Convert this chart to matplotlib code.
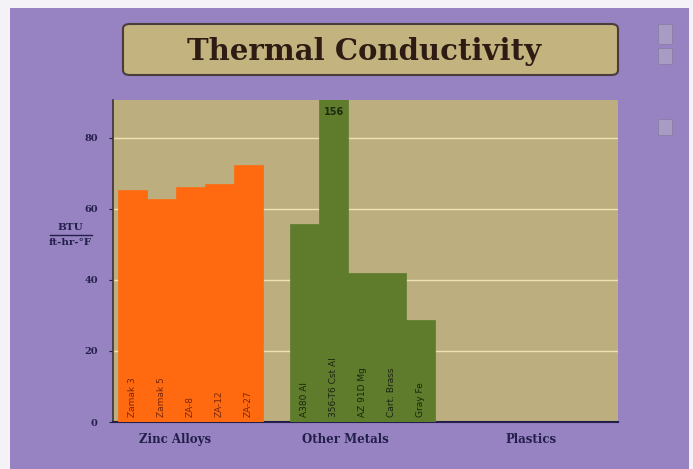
import matplotlib.pyplot as plt
from matplotlib.patches import FancyBboxPatch, Rectangle

# data
group_names = ['Zinc Alloys', 'Other Metals', 'Plastics']
zinc_labels = ['Zamak 3', 'Zamak 5', 'ZA-8', 'ZA-12', 'ZA-27']
zinc_values = [65.3, 62.9, 66.3, 67.1, 72.5]
metal_labels = ['A380 Al', '356-T6 Cst Al', 'AZ 91D Mg', 'Cart. Brass', 'Gray Fe']
metal_values = [55.9, 156, 41.9, 41.9, 28.8]
plastic_labels = []
plastic_values = []
y_ticks = [0, 20, 40, 60, 80]

PURPLE = '#9782c2'
KHAKI = '#bcae7f'
ORANGE = '#ff6a10'
GREEN = '#5e7c2c'
NAVY = '#22204a'


def draw():
    fig = plt.figure(figsize=(6.93, 4.69), dpi=100)
    fig.patch.set_facecolor('#f4f2f6')
    fig.patches.append(Rectangle((10 / 693, 0), 679 / 693, 461 / 469,
                                 transform=fig.transFigure, facecolor=PURPLE,
                                 edgecolor='none', zorder=-10))
    # faint marks at the right edge
    for y0, h in [(425, 20), (405, 16), (334, 16)]:
        fig.patches.append(Rectangle((658 / 693, y0 / 469), 14 / 693, h / 469,
                                     transform=fig.transFigure, facecolor='#a99cc4',
                                     edgecolor='#8a7fa8', linewidth=0.6))

    # title box
    fig.patches.append(FancyBboxPatch((123 / 693, 394 / 469), 495 / 693, 51 / 469,
                                      boxstyle='round,pad=0,rounding_size=0.01',
                                      transform=fig.transFigure, facecolor='#c3b47f',
                                      edgecolor='#4a3c3c', linewidth=1.5))
    fig.text(0.525, 417 / 469, 'Thermal Conductivity', ha='center', va='center',
             fontsize=21, fontweight='bold', family='DejaVu Serif', color='#2e1c14')

    ax = fig.add_axes([113 / 693, 47 / 469, 505 / 693, 322 / 469])
    ax.set_facecolor(KHAKI)

    groups = [(zinc_labels, zinc_values, ORANGE, 0.17, '#7a2606'),
              (metal_labels, metal_values, GREEN, 6.1, '#1a2410'),
              (plastic_labels, plastic_values, '#888888', 12.0, '#222222')]
    for labels, values, color, start, tcol in groups:
        xs = [start + i for i in range(len(values))]
        ax.bar(xs, values, width=1.0, align='edge', color=color,
               edgecolor=color, linewidth=0.5, zorder=3)
        for x, lab, v in zip(xs, labels, values):
            ax.text(x + 0.5, 1.5, lab, rotation=90, ha='center', va='bottom',
                    fontsize=6.5, color=tcol, zorder=4)
            if v > 90:
                ax.text(x + 0.5, 87.3, str(int(v)), ha='center', va='center',
                        fontsize=7, fontweight='bold', color='#1e2a10', zorder=4)
    centers = [2.14, 8.0, 14.4]

    ax.set_xlim(0, 17.4)
    ax.set_ylim(0, 90.7)
    ax.set_yticks(y_ticks)
    ax.set_yticklabels([str(t) for t in y_ticks], fontsize=7, fontweight='bold',
                       family='DejaVu Serif', color=NAVY)
    ax.tick_params(axis='y', length=3, color=NAVY, pad=8)
    ax.set_xticks(centers)
    ax.set_xticklabels(group_names, fontsize=8.5, fontweight='bold',
                       family='DejaVu Serif', color=NAVY)
    ax.tick_params(axis='x', length=0, pad=8)
    ax.yaxis.grid(True, color='#efe3b4', linewidth=1.0, zorder=1)
    ax.set_axisbelow(True)
    for side in ['top', 'right']:
        ax.spines[side].set_visible(False)
    ax.spines['left'].set_color('#3c3430')
    ax.spines['left'].set_linewidth(1.2)
    ax.spines['bottom'].set_color(NAVY)
    ax.spines['bottom'].set_linewidth(1.5)

    # y axis unit label
    fig.text(70 / 693, 237 / 469, 'BTU', ha='center', va='bottom', fontsize=7.5,
             fontweight='bold', family='DejaVu Serif', color=NAVY)
    fig.lines.append(plt.Line2D([50 / 693, 92 / 693], [234 / 469, 234 / 469],
                                transform=fig.transFigure, color=NAVY, linewidth=1))
    fig.text(70 / 693, 231 / 469, 'ft-hr-°F', ha='center', va='top', fontsize=7.5,
             fontweight='bold', family='DejaVu Serif', color=NAVY)

    fig.savefig('out.png', dpi=100, facecolor=fig.get_facecolor())


if __name__ == '__main__':
    draw()
